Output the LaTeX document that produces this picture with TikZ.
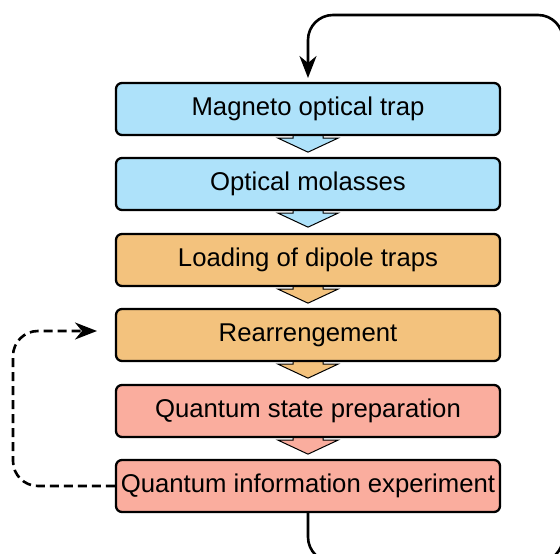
\documentclass[tikz,border=0pt]{standalone}
\usepackage{fontspec}
\setmainfont{Liberation Sans}
\usetikzlibrary{arrows.meta,calc,backgrounds}
\definecolor{cblue}{RGB}{174,226,250}
\definecolor{corange}{RGB}{243,194,125}
\definecolor{cred}{RGB}{250,173,158}
\tikzset{
  stepbox/.style={draw=black, line width=2.3pt, rounded corners=6pt, minimum width=384pt, minimum height=52pt, inner sep=0pt, font=\fontsize{25.7}{30}\selectfont, anchor=center},
  loopline/.style={draw=black, line width=2.6pt, rounded corners=25pt, -{Stealth[length=22pt,width=17pt,inset=7pt]}},
  blockarrow/.style={draw=black, line width=1pt, line join=miter}
}
\newcommand{\blockarr}[2]{%
  \path[blockarrow, fill=#2] ($(#1.south)+(-15,0)$) -- ($(#1.south)+(-15,2)$) -- ($(#1.south)+(-30,2)$) -- ($(#1.south)+(0,16)$) -- ($(#1.south)+(30,2)$) -- ($(#1.south)+(15,2)$) -- ($(#1.south)+(15,0)$);}
\begin{document}
\begin{tikzpicture}[x=1pt,y=-1pt]
\useasboundingbox (0,0) rectangle (560,554);
\node[stepbox, fill=cblue] (mot) at (308,109) {Magneto optical trap};
\node[stepbox, fill=cblue] (mol) at (308,184) {Optical molasses};
\node[stepbox, fill=corange] (load) at (308,260) {Loading of dipole traps};
\node[stepbox, fill=corange] (rear) at (308,335) {Rearrengement};
\node[stepbox, fill=cred] (prep) at (308,411) {Quantum state preparation};
\node[stepbox, fill=cred] (exp) at (308,486) {Quantum information experiment};
\begin{scope}[on background layer]
\blockarr{mot}{cblue}
\blockarr{mol}{cblue}
\blockarr{load}{corange}
\blockarr{rear}{corange}
\blockarr{prep}{cred}
\end{scope}
\coordinate (dashend) at (97,331);
\coordinate (topend) at (308,78);
\draw[loopline, dash pattern=on 9pt off 5pt] (exp.west) -- (13,486) -- (13,331) -- (dashend);
\begin{scope}
\clip (0,0) rectangle (560,554);
\draw[loopline] (exp.south) -- (308,562) -- (563,562) -- (563,15) -- (308,15) -- (topend);
\end{scope}
\end{tikzpicture}
\end{document}
